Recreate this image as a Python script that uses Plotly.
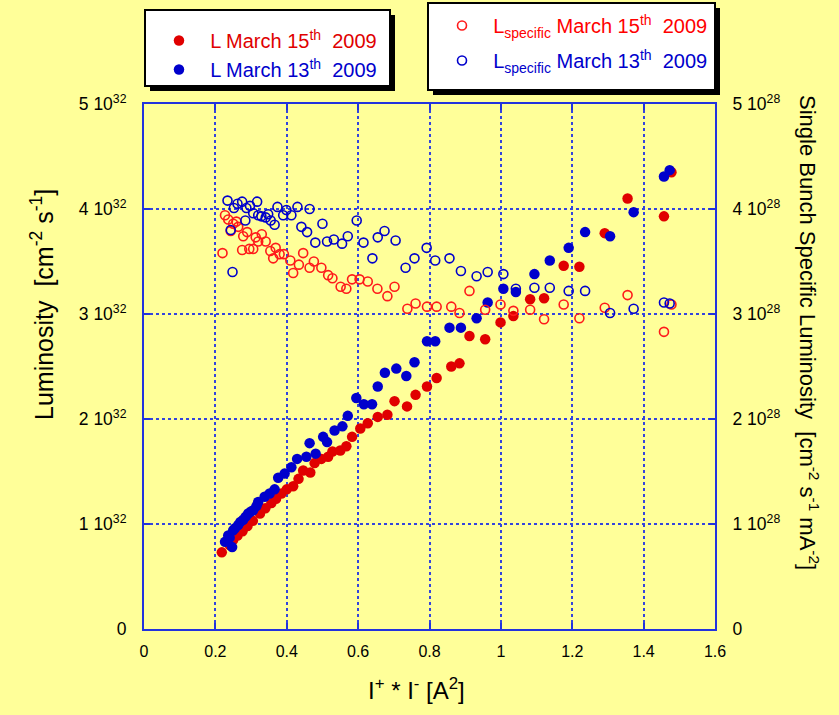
import plotly.graph_objects as go

# I+ * I- [A^2] and luminosity [1e32 cm^-2 s^-1], March 15th 2009
x_l15 = [0.218, 0.24, 0.25, 0.262, 0.276, 0.29, 0.305, 0.325, 0.34, 0.357, 0.37, 0.385, 0.40,
         0.418, 0.433, 0.446, 0.466, 0.478, 0.497, 0.516, 0.528, 0.550, 0.567, 0.583, 0.606,
         0.627, 0.655, 0.682, 0.702, 0.737, 0.761, 0.793, 0.820, 0.861, 0.884, 0.912, 0.956,
         0.999, 1.035, 1.082, 1.121, 1.176, 1.220, 1.291, 1.355, 1.457, 1.478]
lum_15 = [0.73, 0.80, 0.85, 0.89, 0.93, 0.98, 1.03, 1.10, 1.15, 1.20, 1.24, 1.29, 1.33,
          1.36, 1.43, 1.51, 1.49, 1.58, 1.62, 1.64, 1.69, 1.70, 1.74, 1.83, 1.91,
          1.96, 2.02, 2.04, 2.17, 2.12, 2.23, 2.31, 2.39, 2.50, 2.53, 2.79, 2.76,
          2.92, 2.98, 3.14, 3.15, 3.46, 3.45, 3.77, 4.10, 3.93, 4.35]

# Luminosity [1e32 cm^-2 s^-1], March 13th 2009
x_l13 = [0.227, 0.236, 0.24, 0.247, 0.25, 0.255, 0.264, 0.27, 0.278, 0.285, 0.292, 0.30, 0.306,
         0.315, 0.320, 0.338, 0.352, 0.366, 0.376, 0.394, 0.413, 0.429, 0.455, 0.464, 0.481,
         0.502, 0.513, 0.534, 0.556, 0.571, 0.595, 0.616, 0.639, 0.655, 0.675, 0.707, 0.735,
         0.758, 0.793, 0.816, 0.856, 0.888, 0.932, 0.963, 1.007, 1.042, 1.094, 1.137, 1.190,
         1.236, 1.306, 1.372, 1.457, 1.473]
lum_13 = [0.83, 0.89, 0.87, 0.78, 0.94, 0.96, 0.99, 1.02, 1.04, 1.07, 1.10, 1.12, 1.13,
          1.17, 1.21, 1.26, 1.29, 1.33, 1.44, 1.48, 1.54, 1.62, 1.64, 1.77, 1.67,
          1.83, 1.78, 1.89, 1.93, 2.03, 2.20, 2.14, 2.14, 2.31, 2.44, 2.48, 2.41,
          2.54, 2.74, 2.74, 2.87, 2.87, 2.96, 3.11, 3.24, 3.21, 3.38, 3.51, 3.63,
          3.78, 3.74, 3.97, 4.31, 4.37]

# Single bunch specific luminosity [1e28 cm^-2 s^-1 mA^-2], March 15th 2009
x_s15 = [0.220, 0.227, 0.236, 0.243, 0.250, 0.259, 0.264, 0.275, 0.278, 0.289, 0.295, 0.306,
         0.313, 0.320, 0.330, 0.341, 0.354, 0.362, 0.369, 0.380, 0.392, 0.410, 0.418, 0.434,
         0.446, 0.464, 0.476, 0.497, 0.516, 0.528, 0.551, 0.567, 0.583, 0.604, 0.627, 0.654,
         0.682, 0.702, 0.738, 0.761, 0.793, 0.820, 0.861, 0.884, 0.912, 0.956, 0.999, 1.035,
         1.082, 1.121, 1.176, 1.220, 1.291, 1.355, 1.457, 1.478]
spec_15 = [3.58, 3.94, 3.90, 3.79, 3.86, 3.88, 3.83, 3.61, 3.74, 3.78, 3.62, 3.62,
           3.73, 3.69, 3.76, 3.69, 3.60, 3.53, 3.63, 3.57, 3.57, 3.51, 3.39, 3.47,
           3.58, 3.44, 3.50, 3.44, 3.37, 3.34, 3.26, 3.24, 3.33, 3.33, 3.31, 3.24,
           3.17, 3.26, 3.05, 3.10, 3.07, 3.07, 3.07, 3.01, 3.22, 3.04, 3.09, 3.03,
           3.04, 2.95, 3.09, 2.96, 3.06, 3.18, 2.83, 3.09]

# Single bunch specific luminosity [1e28 cm^-2 s^-1 mA^-2], March 13th 2009
x_s13 = [0.234, 0.243, 0.248, 0.252, 0.262, 0.275, 0.284, 0.287, 0.297, 0.306, 0.317, 0.320,
         0.329, 0.341, 0.348, 0.355, 0.366, 0.374, 0.390, 0.399, 0.413, 0.430, 0.441, 0.457,
         0.464, 0.480, 0.500, 0.513, 0.532, 0.555, 0.571, 0.596, 0.615, 0.640, 0.655, 0.674,
         0.705, 0.733, 0.758, 0.792, 0.816, 0.856, 0.888, 0.932, 0.963, 1.007, 1.042, 1.094,
         1.137, 1.190, 1.236, 1.306, 1.372, 1.457, 1.473]
spec_13 = [4.08, 3.80, 3.40, 4.01, 4.05, 4.07, 3.89, 4.01, 4.03, 3.96, 4.07, 3.94,
           3.93, 3.92, 3.95, 3.89, 3.85, 4.02, 3.94, 3.99, 3.94, 4.02, 3.83, 3.78,
           4.00, 3.68, 3.86, 3.69, 3.71, 3.67, 3.74, 3.89, 3.68, 3.53, 3.73, 3.79,
           3.70, 3.44, 3.53, 3.63, 3.51, 3.53, 3.41, 3.36, 3.40, 3.38, 3.24, 3.25,
           3.25, 3.22, 3.22, 3.01, 3.05, 3.11, 3.10]

x_ticks = [0, 0.2, 0.4, 0.6, 0.8, 1.0, 1.2, 1.4, 1.6]
x_ticktext = ["0", "0.2", "0.4", "0.6", "0.8", "1", "1.2", "1.4", "1.6"]
y_ticks = [0, 1, 2, 3, 4, 5]
y_left_text = ["0"] + [f"{v} 10<sup>32</sup>" for v in y_ticks[1:]]
y_right_text = ["0"] + [f"{v} 10<sup>28</sup>" for v in y_ticks[1:]]

RED = "#E00000"
RED_OPEN = "#FF1A1A"
BLUE = "#0000CC"
BG = "#FFFF99"
GRID = "#3344DD"
FONT = "Liberation Sans, Arial, Helvetica, sans-serif"

fig = go.Figure()

fig.add_trace(go.Scatter(
    x=x_l15, y=lum_15, mode="markers", legend="legend", legendgroup="l15",
    name='&nbsp;&nbsp;<span style="color:#E00000">L March 15<sup>th</sup>&nbsp; 2009</span>',
    marker=dict(symbol="circle", size=10.5, color=RED),
))
fig.add_trace(go.Scatter(
    x=x_l13, y=lum_13, mode="markers", legend="legend", legendgroup="l13",
    name='&nbsp;&nbsp;<span style="color:#0000CC">L March 13<sup>th</sup>&nbsp; 2009</span>',
    marker=dict(symbol="circle", size=10.5, color=BLUE),
))
fig.add_trace(go.Scatter(
    x=x_s15, y=spec_15, mode="markers", yaxis="y2", legend="legend2", legendgroup="s15",
    name='&nbsp;&nbsp;<span style="color:#FF0000">L<sub>specific</sub> March 15<sup>th</sup>&nbsp; 2009</span>',
    marker=dict(symbol="circle-open", size=9, color=RED_OPEN, line=dict(width=1.6)),
))
fig.add_trace(go.Scatter(
    x=x_s13, y=spec_13, mode="markers", yaxis="y2", legend="legend2", legendgroup="s13",
    name='&nbsp;&nbsp;<span style="color:#0000CC">L<sub>specific</sub> March 13<sup>th</sup>&nbsp; 2009</span>',
    marker=dict(symbol="circle-open", size=9, color=BLUE, line=dict(width=1.6)),
))

# plot area in pixels: x 144..715, y 104..629
L, R, T, B = 144, 124, 104, 86
W, H = 839, 715
pw, ph = W - L - R, H - T - B


def px(xp):
    return (xp - L) / pw


def py(yp):
    return (H - B - yp) / ph


axis_common = dict(
    showline=True, linecolor="#2233DD", linewidth=2,
    ticks="inside", ticklen=6, tickcolor="#2233DD", tickwidth=1.5,
    showgrid=True, gridcolor=GRID, gridwidth=2, griddash="dot",
    zeroline=False,
)

fig.update_layout(
    width=W, height=H,
    margin=dict(l=L, r=R, t=T, b=B, pad=0, autoexpand=False),
    paper_bgcolor=BG, plot_bgcolor=BG,
    font=dict(family=FONT, color="black"),
    xaxis=dict(range=[0, 1.6], tickvals=x_ticks, ticktext=x_ticktext,
               mirror="ticks", ticklabelstandoff=7,
               tickfont=dict(family=FONT, size=16, color="black"), **axis_common),
    yaxis=dict(range=[0, 5], tickvals=y_ticks, ticktext=y_left_text,
               mirror="ticks", ticklabelstandoff=12,
               tickfont=dict(family=FONT, size=17.5, color="black"), **axis_common),
    yaxis2=dict(range=[0, 5], tickvals=y_ticks, ticktext=y_right_text,
                overlaying="y", side="right", ticklabelstandoff=12,
                tickfont=dict(family=FONT, size=17.5, color="black"),
                **{**axis_common, "showgrid": False}),
    legend=dict(x=px(159), y=py(21), xanchor="left", yanchor="top",
                bgcolor="rgba(0,0,0,0)", borderwidth=0,
                font=dict(family=FONT, size=20), tracegroupgap=0),
    legend2=dict(x=px(442), y=py(6), xanchor="left", yanchor="top",
                 bgcolor="rgba(0,0,0,0)", borderwidth=0,
                 font=dict(family=FONT, size=20), tracegroupgap=6),
    showlegend=True,
)

# legend frames with drop shadows
for (x0, y0, x1, y1) in [(145, 10, 390, 86), (428, 3, 715, 90)]:
    fig.add_shape(type="rect", xref="paper", yref="paper",
                  x0=px(x0 + 5), x1=px(x1 + 5), y0=py(y1 + 5), y1=py(y0 + 5),
                  fillcolor="black", line=dict(width=0), layer="above")
    fig.add_shape(type="rect", xref="paper", yref="paper",
                  x0=px(x0), x1=px(x1), y0=py(y1), y1=py(y0),
                  fillcolor="white", line=dict(color="black", width=2), layer="above")

fig.add_annotation(xref="paper", yref="paper", x=px(42), y=py(305),
                   xanchor="center", yanchor="middle",
                   text="Luminosity&nbsp; [cm<sup>-2</sup> s<sup>-1</sup>]",
                   textangle=-90, showarrow=False,
                   font=dict(family=FONT, size=25, color="black"))
fig.add_annotation(xref="paper", yref="paper", x=px(809), y=py(332),
                   xanchor="center", yanchor="middle",
                   text="Single Bunch Specific Luminosity&nbsp; [cm<sup>-2</sup> s<sup>-1</sup> mA<sup>-2</sup>]",
                   textangle=90, showarrow=False,
                   font=dict(family=FONT, size=22, color="black"))
fig.add_annotation(xref="paper", yref="paper", x=px(416), y=py(689),
                   xanchor="center", yanchor="middle",
                   text="I<sup>+</sup> * I<sup>-</sup> [A<sup>2</sup>]",
                   showarrow=False,
                   font=dict(family=FONT, size=24, color="black"))

fig.write_html("out.html")
